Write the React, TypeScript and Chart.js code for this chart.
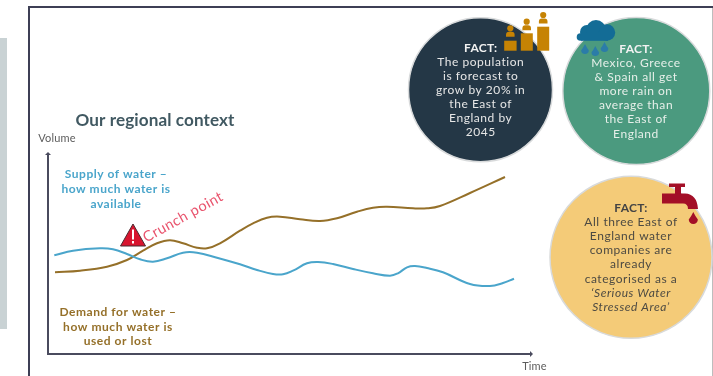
import { useEffect, useRef } from "react";
import { Chart, registerables } from "chart.js";

Chart.register(...registerables);

// Time runs 0-482 and volume 0-199 in arbitrary units; the chart has no numeric ticks.
const supplyTime = [6.3, 25, 52, 65, 79, 92, 105, 119, 135, 149, 169, 192, 209, 225, 235, 245, 259, 270, 285, 305, 325, 342, 350, 359, 367, 379, 395, 422, 442, 455, 466];
const supplyVolume = [98.7, 103.3, 105.7, 104.7, 100, 94.7, 92.3, 95.7, 101.3, 101.3, 96.3, 89.7, 84, 80, 79.7, 83.3, 90.7, 92, 90, 85, 80.7, 78.3, 80.7, 86.7, 88, 86, 81.7, 70, 68, 71, 75.3];
const demandTime = [7, 32, 59, 79, 95, 109, 122, 135, 149, 159, 172, 192, 205, 219, 232, 252, 272, 289, 309, 325, 339, 365, 379, 392, 422, 457];
const demandVolume = [81.7, 83.3, 87.3, 94, 103.3, 110.7, 113.7, 110.7, 106.3, 105.7, 110.7, 123.3, 130.7, 136.3, 137.3, 134.7, 133, 135.7, 142.3, 146.3, 147.3, 145.7, 145.7, 148, 161, 177];

const populationFact = ["The population", "is forecast to", "grow by 20% in", "the East of", "England by", "2045"];
const rainFact = ["Mexico, Greece", "& Spain all get", "more rain on", "average than", "the East of", "England"];
const stressFact = ["All three East of", "England water", "companies are", "already", "categorised as a"];
const stressFactItalic = ["\u2018Serious Water", "Stressed Area\u2019"];
const supplyLabel = ["Supply of water \u2013", "how much water is", "available"];
const demandLabel = ["Demand for water \u2013", "how much water is", "used or lost"];

const FONT = "Lato, sans-serif";
const SUPPLY = "#4aa5cb";
const DEMAND = "#957029";
const AXIS = "#4a4b5e";

type Ctx = CanvasRenderingContext2D;

function text(ctx: Ctx, s: string, x: number, y: number, font: string, color: string, spacing = 0, align: CanvasTextAlign = "center") {
  ctx.font = font;
  ctx.fillStyle = color;
  ctx.textAlign = align;
  ctx.textBaseline = "middle";
  ctx.letterSpacing = `${spacing}px`;
  ctx.fillText(s, x, y);
  ctx.letterSpacing = "0px";
}

function disc(ctx: Ctx, x: number, y: number, r: number, fill: string) {
  ctx.beginPath();
  ctx.arc(x, y, r, 0, Math.PI * 2);
  ctx.fillStyle = fill;
  ctx.fill();
  ctx.lineWidth = 1.5;
  ctx.strokeStyle = "#d8dadb";
  ctx.stroke();
}

function blob(ctx: Ctx, x: number, y: number, r: number, fill: string) {
  ctx.beginPath();
  ctx.arc(x, y, r, 0, Math.PI * 2);
  ctx.fillStyle = fill;
  ctx.fill();
}

function drop(ctx: Ctx, x: number, top: number, h: number, fill: string) {
  const r = h * 0.38;
  ctx.beginPath();
  ctx.moveTo(x, top);
  ctx.quadraticCurveTo(x + r * 0.5, top + h * 0.4, x + r, top + h - r);
  ctx.arc(x, top + h - r, r, 0, Math.PI);
  ctx.quadraticCurveTo(x - r * 0.5, top + h * 0.4, x, top);
  ctx.fillStyle = fill;
  ctx.fill();
}

function person(ctx: Ctx, x: number, headY: number, barLeft: number, barTop: number, barW: number) {
  const c = "#c68304";
  blob(ctx, x, headY, 3.1, c);
  ctx.fillStyle = c;
  ctx.beginPath();
  ctx.roundRect(x - 4.3, headY + 3.5, 8.6, 5, [3, 3, 0, 0]);
  ctx.fill();
  ctx.fillRect(barLeft, barTop, barW, 50.7 - barTop);
}

function cloud(ctx: Ctx) {
  const c = "#136c96";
  blob(ctx, 580.5, 37, 3.8, c);
  blob(ctx, 587, 32, 7, c);
  blob(ctx, 596, 30, 10, c);
  blob(ctx, 607, 32.5, 8.2, c);
  ctx.fillStyle = c;
  ctx.fillRect(581, 33, 27, 7.8);
  drop(ctx, 585, 44, 10, "#2b7ca8");
  drop(ctx, 595.3, 46, 10, "#2b7ca8");
  drop(ctx, 604.5, 42, 10, "#2b7ca8");
}

function tap(ctx: Ctx) {
  const c = "#a30f27";
  ctx.fillStyle = c;
  ctx.fillRect(669, 183.5, 16, 3.5);
  ctx.fillRect(675, 186, 6, 8);
  ctx.beginPath();
  ctx.moveTo(662, 193.5);
  ctx.lineTo(685, 193.5);
  ctx.quadraticCurveTo(697, 194, 698, 209);
  ctx.lineTo(688, 209);
  ctx.quadraticCurveTo(688, 203.5, 683, 203.5);
  ctx.lineTo(662, 203.5);
  ctx.closePath();
  ctx.fill();
  drop(ctx, 693.3, 212, 12, c);
}

function warning(ctx: Ctx) {
  ctx.beginPath();
  ctx.moveTo(133, 224);
  ctx.lineTo(145.5, 246);
  ctx.lineTo(120.5, 246);
  ctx.closePath();
  ctx.fillStyle = "#d8152f";
  ctx.fill();
  ctx.strokeStyle = "#4a2a30";
  ctx.lineWidth = 1;
  ctx.lineJoin = "round";
  ctx.stroke();
  ctx.fillStyle = "#fff";
  ctx.fillRect(132, 229.5, 2, 10);
  ctx.fillRect(132, 241, 2, 2.5);
}

function arrowHead(ctx: Ctx, x: number, y: number, dx: number, dy: number) {
  ctx.beginPath();
  ctx.moveTo(x + dx * 3, y + dy * 3);
  ctx.lineTo(x - dy * 3, y + dx * 3);
  ctx.lineTo(x + dy * 3, y - dx * 3);
  ctx.closePath();
  ctx.fillStyle = AXIS;
  ctx.fill();
}

// Frame, fact bubbles, icons and captions sit behind the two curves.
const slideLayer = {
  id: "slideLayer",
  beforeDraw(chart: Chart) {
    const ctx = chart.ctx;
    ctx.save();
    ctx.fillStyle = "#fff";
    ctx.fillRect(0, 0, 713, 376);
    ctx.fillStyle = "#c9d2d4";
    ctx.fillRect(0, 38, 7, 291);
    ctx.fillStyle = "#bdbdbd";
    ctx.fillRect(712, 8, 1, 368);
    ctx.fillStyle = "#3d3f55";
    ctx.fillRect(28, 6, 685, 2);
    ctx.fillRect(28, 6, 2, 370);

    disc(ctx, 480.5, 89.7, 72, "#243746");
    disc(ctx, 636.3, 91, 73.5, "#4b9a7f");
    disc(ctx, 631, 257.3, 81, "#f4cb78");

    const body = `12px ${FONT}`;
    const bold = `bold 12px ${FONT}`;
    text(ctx, "FACT:", 480.7, 48, bold, "#f2f2f2", 0.3);
    populationFact.forEach((l, i) => text(ctx, l, 480.7, 62 + i * 14.1, body, "#e6e6e6", 0.55));
    text(ctx, "FACT:", 636, 49, bold, "#f2f2f2", 0.3);
    rainFact.forEach((l, i) => text(ctx, l, 636, 63.2 + i * 14.1, body, "#e6efe9", 0.55));
    text(ctx, "FACT:", 631, 208, bold, "#444", 0.3);
    stressFact.forEach((l, i) => text(ctx, l, 631, 222.3 + i * 14.1, body, "#4d4a42", 0.55));
    stressFactItalic.forEach((l, i) => text(ctx, l, 631, 293 + i * 14.1, `italic 12px ${FONT}`, "#4d4a42", 0.55));

    person(ctx, 510.3, 28.3, 504.2, 40.7, 12.4);
    person(ctx, 526.7, 21.7, 520.8, 33.3, 12);
    person(ctx, 543.2, 15, 537.2, 26.7, 12);
    cloud(ctx);
    tap(ctx);

    text(ctx, "Our regional context", 155, 120, `bold 17.1px ${FONT}`, "#415962", 0.1);
    text(ctx, "Volume", 57, 138.5, `11px ${FONT}`, "#5c5c5c", 0.15);
    text(ctx, "Time", 534.5, 366, `11px ${FONT}`, "#5c5c5c", 0.15);
    supplyLabel.forEach((l, i) => text(ctx, l, 116, 174.5 + i * 14.7, `bold 12px ${FONT}`, SUPPLY, 0.5));
    demandLabel.forEach((l, i) => text(ctx, l, 118, 312.3 + i * 14.6, `bold 12px ${FONT}`, DEMAND, 0.55));

    warning(ctx);
    ctx.save();
    ctx.translate(183, 217);
    ctx.rotate((-29 * Math.PI) / 180);
    text(ctx, "Crunch point", 0, 0, `14.6px ${FONT}`, "#e9566f", 0.5);
    ctx.restore();
    ctx.restore();
  },
  afterDraw(chart: Chart) {
    const { left, top, right, bottom } = chart.chartArea;
    arrowHead(chart.ctx, left, top, 0, -1);
    arrowHead(chart.ctx, right, bottom, 1, 0);
  },
};

export default function App() {
  const ref = useRef<HTMLCanvasElement>(null);

  useEffect(() => {
    const chart = new Chart(ref.current!, {
      type: "line",
      data: {
        datasets: [
          {
            label: "Supply of water",
            data: supplyTime.map((x, i) => ({ x, y: supplyVolume[i] })),
            borderColor: SUPPLY,
            borderWidth: 2,
            pointRadius: 0,
            tension: 0.4,
          },
          {
            label: "Demand for water",
            data: demandTime.map((x, i) => ({ x, y: demandVolume[i] })),
            borderColor: DEMAND,
            borderWidth: 2,
            pointRadius: 0,
            tension: 0.4,
          },
        ],
      },
      options: {
        responsive: false,
        animation: false,
        layout: { padding: { left: 48, top: 155, right: 183, bottom: 22 } },
        plugins: { legend: { display: false }, tooltip: { enabled: false } },
        scales: {
          x: {
            type: "linear",
            min: 0,
            max: 482,
            grid: { display: false, drawTicks: false },
            ticks: { display: false },
            border: { color: AXIS, width: 2 },
          },
          y: {
            min: 0,
            max: 199,
            grid: { display: false, drawTicks: false },
            ticks: { display: false },
            border: { color: AXIS, width: 2 },
          },
        },
      },
      plugins: [slideLayer],
    });
    return () => chart.destroy();
  }, []);

  return (
    <div style={{ position: "absolute", left: 0, top: 0, width: 713, height: 376, overflow: "hidden" }}>
      <canvas ref={ref} width={713} height={376} style={{ display: "block" }} />
    </div>
  );
}
